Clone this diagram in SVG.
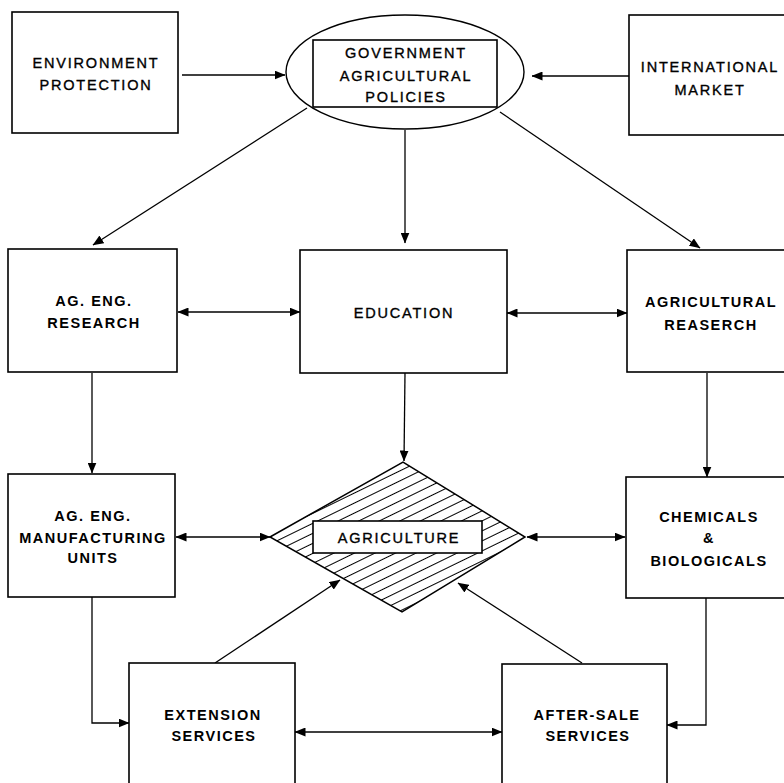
<svg xmlns="http://www.w3.org/2000/svg" width="784" height="783" viewBox="0 0 784 783">
<style>
.box{fill:#fff;stroke:#000;stroke-width:1.6}
.ln{fill:none;stroke:#000;stroke-width:1.3}
.t{font-family:"Liberation Sans",Arial,sans-serif;font-size:14.5px;letter-spacing:1.8px;text-anchor:middle;fill:#000;stroke:#000;stroke-width:0.35}
.b{font-family:"Liberation Sans",Arial,sans-serif;font-size:14.5px;font-weight:bold;letter-spacing:1.5px;text-anchor:middle;fill:#000}
</style>
<defs>
<marker id="ah" viewBox="0 0 11 9" refX="10.5" refY="4.5" markerWidth="11" markerHeight="9" markerUnits="userSpaceOnUse" orient="auto-start-reverse">
<path d="M0,0 L11,4.5 L0,9 z" fill="#000"/>
</marker>
<pattern id="hatch" width="20" height="9" patternUnits="userSpaceOnUse" patternTransform="rotate(-26)">
<line x1="0" y1="4.5" x2="20" y2="4.5" stroke="#000" stroke-width="1"/>
</pattern>
</defs>
<rect width="784" height="783" fill="#fff"/>

<g id="connectors">
<line class="ln" x1="182" y1="75" x2="285" y2="75" marker-end="url(#ah)"/>
<line class="ln" x1="629" y1="76" x2="532" y2="76" marker-end="url(#ah)"/>
<line class="ln" x1="307" y1="108" x2="93" y2="245" marker-end="url(#ah)"/>
<line class="ln" x1="405" y1="130" x2="405" y2="243" marker-end="url(#ah)"/>
<line class="ln" x1="500" y1="112" x2="700" y2="248" marker-end="url(#ah)"/>
<line class="ln" x1="178" y1="312" x2="300" y2="312" marker-start="url(#ah)" marker-end="url(#ah)"/>
<line class="ln" x1="507" y1="313" x2="627" y2="313" marker-start="url(#ah)" marker-end="url(#ah)"/>
<line class="ln" x1="92" y1="373" x2="92" y2="473" marker-end="url(#ah)"/>
<line class="ln" x1="405" y1="373" x2="404" y2="461" marker-end="url(#ah)"/>
<line class="ln" x1="707" y1="373" x2="707" y2="477" marker-end="url(#ah)"/>
<line class="ln" x1="176" y1="537" x2="270" y2="537" marker-start="url(#ah)" marker-end="url(#ah)"/>
<line class="ln" x1="527" y1="537" x2="625" y2="537" marker-start="url(#ah)" marker-end="url(#ah)"/>
<path class="ln" d="M92,597 V723 H129" marker-end="url(#ah)"/>
<path class="ln" d="M706,598 V725 H667" marker-end="url(#ah)"/>
<line class="ln" x1="215" y1="663" x2="340" y2="580" marker-end="url(#ah)"/>
<line class="ln" x1="582" y1="663" x2="458" y2="583" marker-end="url(#ah)"/>
<line class="ln" x1="295" y1="732" x2="502" y2="732" marker-start="url(#ah)" marker-end="url(#ah)"/>
</g>

<g id="environment-protection">
<rect class="box" x="12" y="12" width="166" height="121"/>
<text class="t" x="96" y="68">ENVIRONMENT</text>
<text class="t" x="96" y="90">PROTECTION</text>
</g>

<g id="government-policies">
<ellipse cx="405" cy="72" rx="119" ry="57" fill="#fff" stroke="#000" stroke-width="1.4"/>
<rect class="box" x="313" y="40" width="184" height="67"/>
<text class="t" x="406" y="58">GOVERNMENT</text>
<text class="t" x="406" y="81">AGRICULTURAL</text>
<text class="t" x="406" y="102">POLICIES</text>
</g>

<g id="international-market">
<rect class="box" x="629" y="15" width="170" height="120"/>
<text class="t" x="710" y="72">INTERNATIONAL</text>
<text class="t" x="710" y="95">MARKET</text>
</g>

<g id="ag-eng-research">
<rect class="box" x="8" y="249" width="169" height="123"/>
<text class="b" x="94" y="306">AG. ENG.</text>
<text class="b" x="94" y="328">RESEARCH</text>
</g>

<g id="education">
<rect class="box" x="300" y="250" width="207" height="123"/>
<text class="t" x="404" y="318">EDUCATION</text>
</g>

<g id="agricultural-research">
<rect class="box" x="627" y="250" width="170" height="122"/>
<text class="b" x="711" y="307">AGRICULTURAL</text>
<text class="b" x="711" y="330">REASERCH</text>
</g>

<g id="ag-eng-manufacturing">
<rect class="box" x="8" y="474" width="167" height="123"/>
<text class="b" x="93" y="521">AG. ENG.</text>
<text class="b" x="93" y="543">MANUFACTURING</text>
<text class="b" x="93" y="563">UNITS</text>
</g>

<g id="agriculture">
<polygon points="270,537 403,462 525,537 402,612" fill="url(#hatch)" stroke="#000" stroke-width="1.5"/>
<rect class="box" x="313" y="521" width="169" height="32"/>
<text class="t" x="399" y="543">AGRICULTURE</text>
</g>

<g id="chemicals-biologicals">
<rect class="box" x="626" y="477" width="170" height="121"/>
<text class="b" x="709" y="522">CHEMICALS</text>
<text class="b" x="709" y="543">&amp;</text>
<text class="b" x="709" y="566">BIOLOGICALS</text>
</g>

<g id="extension-services">
<rect class="box" x="129" y="663" width="166" height="130"/>
<text class="b" x="213" y="720">EXTENSION</text>
<text class="b" x="214" y="741">SERVICES</text>
</g>

<g id="after-sale-services">
<rect class="box" x="502" y="664" width="165" height="130"/>
<text class="b" x="587" y="720">AFTER-SALE</text>
<text class="b" x="588" y="741">SERVICES</text>
</g>
</svg>
